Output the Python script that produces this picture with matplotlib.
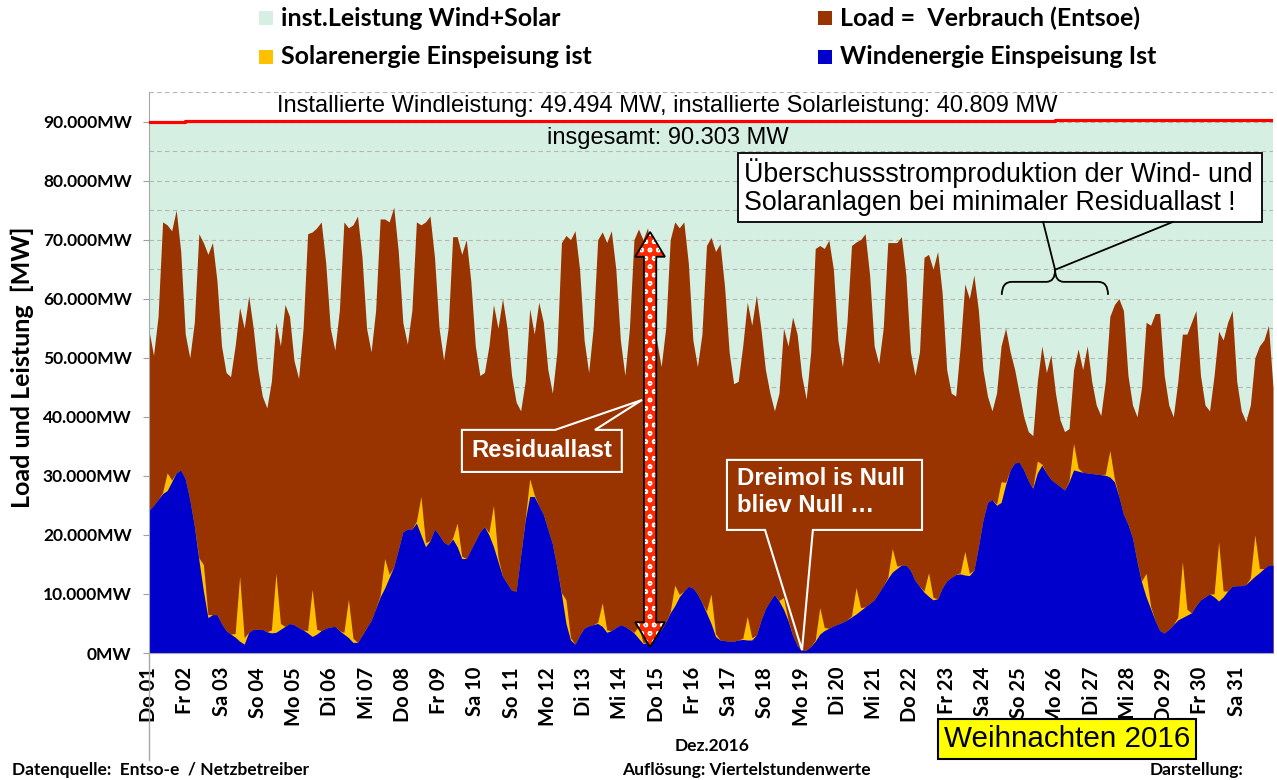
import numpy as np
import matplotlib.pyplot as plt
from matplotlib.patches import Polygon, Rectangle, PathPatch
from matplotlib.path import Path
from matplotlib.ticker import FuncFormatter, MultipleLocator

# Werte in Tsd. MW, je Tag 8 Werte (0, 3, 6, ... 21 Uhr), Dezember 2016
STEPS_PER_DAY = 8

day_labels = ["Do 01", "Fr 02", "Sa 03", "So 04", "Mo 05", "Di 06", "Mi 07",
              "Do 08", "Fr 09", "Sa 10", "So 11", "Mo 12", "Di 13", "Mi 14",
              "Do 15", "Fr 16", "Sa 17", "So 18", "Mo 19", "Di 20", "Mi 21",
              "Do 22", "Fr 23", "Sa 24", "So 25", "Mo 26", "Di 27", "Mi 28",
              "Do 29", "Fr 30", "Sa 31"]

load_k = [
    54.6, 50.4, 57.0, 73.0, 72.5, 71.5, 75.0, 68.0,
    54.0, 50.0, 56.0, 71.0, 69.5, 67.5, 69.5, 63.0,
    52.0, 47.5, 46.8, 52.0, 58.5, 55.0, 60.5, 55.0,
    48.0, 43.5, 41.5, 46.0, 56.0, 52.0, 59.0, 57.0,
    49.5, 46.5, 55.0, 71.0, 71.3, 72.0, 73.0, 66.0,
    55.0, 51.3, 58.0, 73.0, 72.0, 72.5, 74.0, 67.0,
    55.0, 51.0, 58.0, 73.5, 73.5, 73.0, 75.5, 68.0,
    56.0, 52.3, 58.0, 73.0, 72.5, 73.0, 74.0, 67.0,
    55.0, 49.6, 55.0, 70.5, 70.5, 67.5, 70.0, 63.0,
    52.0, 47.0, 47.5, 52.0, 59.0, 55.0, 60.0, 55.0,
    47.0, 42.5, 41.0, 46.0, 58.3, 54.0, 59.4, 56.0,
    48.0, 44.0, 51.0, 69.5, 70.7, 70.0, 71.5, 65.0,
    53.0, 47.5, 55.0, 70.0, 71.3, 69.5, 71.5, 65.0,
    53.0, 47.0, 55.0, 70.0, 71.8, 70.0, 72.0, 66.0,
    53.0, 48.5, 55.0, 70.0, 73.0, 72.0, 73.0, 66.0,
    53.0, 48.5, 54.0, 69.0, 70.4, 68.0, 69.3, 62.0,
    51.0, 45.6, 46.0, 52.0, 59.4, 55.5, 60.6, 55.0,
    48.0, 44.0, 41.0, 44.0, 55.0, 52.0, 56.9, 54.0,
    47.0, 43.0, 51.0, 68.5, 69.0, 68.5, 69.9, 65.0,
    53.0, 48.5, 56.0, 69.0, 69.6, 70.0, 71.0, 64.0,
    52.0, 49.0, 55.0, 69.5, 69.5, 69.5, 70.5, 64.0,
    51.0, 47.0, 51.0, 67.0, 67.5, 65.0, 68.0, 61.0,
    48.0, 44.0, 43.5, 52.0, 62.5, 60.0, 64.0, 58.0,
    48.0, 43.5, 41.0, 44.0, 52.0, 55.0, 51.0, 48.0,
    44.0, 40.0, 37.5, 36.8, 46.0, 52.0, 47.5, 50.5,
    44.0, 39.5, 37.5, 38.0, 48.0, 51.5, 48.0, 52.0,
    46.0, 42.0, 40.2, 46.0, 57.0, 59.0, 60.0, 58.0,
    47.0, 42.0, 40.0, 45.0, 56.0, 55.5, 57.5, 57.5,
    47.0, 42.0, 40.0, 46.0, 54.0, 54.0, 56.0, 58.0,
    47.0, 42.0, 41.0, 47.0, 54.5, 53.0, 56.0, 58.0,
    46.0, 41.0, 39.2, 42.0, 50.0, 52.0, 53.0, 55.5,
    45.0,
]

wind_k = [
    24.2, 25.0, 26.0, 27.0, 27.5, 29.0, 30.5, 31.0,
    29.5, 26.0, 21.5, 15.8, 10.5, 6.0, 6.5, 6.5,
    5.0, 3.8, 3.2, 2.7, 2.0, 1.5, 3.5, 4.0,
    4.0, 4.0, 3.6, 3.4, 3.5, 4.0, 4.5, 5.0,
    4.8, 4.3, 3.9, 3.4, 2.8, 3.2, 3.8, 4.2,
    4.4, 4.5, 3.8, 3.2, 2.6, 1.8, 1.8, 3.0,
    4.3, 5.5, 7.5, 9.5, 11.0, 12.8, 14.6, 17.5,
    20.5, 21.0, 21.0, 22.0, 20.0, 18.0, 19.0, 21.0,
    20.0, 18.8, 18.3, 19.3, 18.0, 16.0, 16.0, 17.5,
    19.0, 20.5, 21.4, 20.0, 18.0, 15.5, 13.0, 11.8,
    10.6, 10.5, 16.5, 22.5, 26.5, 26.5, 25.0, 23.5,
    21.0, 18.5, 14.5, 10.0, 5.0, 2.2, 1.5, 3.0,
    4.2, 4.6, 4.8, 5.0, 4.5, 3.5, 3.8, 4.3,
    4.8, 4.5, 4.0, 3.4, 2.5, 1.6, 1.8, 2.8,
    3.5, 3.9, 5.2, 6.8, 8.0, 9.5, 10.5, 11.3,
    11.0, 10.0, 8.5, 6.8, 5.0, 2.8, 2.2, 2.1,
    2.0, 2.0, 2.2, 2.3, 2.2, 2.2, 3.0, 5.5,
    7.5, 8.8, 9.9, 8.8, 7.4, 5.5, 3.0, 1.3,
    0.4, 0.5, 1.1, 2.0, 3.2, 3.8, 4.2, 4.6,
    4.9, 5.2, 5.6, 6.1, 6.6, 7.2, 7.8, 8.4,
    9.0, 10.2, 11.4, 12.6, 13.7, 14.3, 14.9, 14.9,
    14.0, 12.3, 11.3, 10.3, 9.6, 9.0, 9.2, 11.0,
    12.2, 12.8, 13.3, 13.4, 13.2, 13.1, 14.0, 18.0,
    22.5, 25.5, 26.0, 25.0, 25.5, 28.5, 31.0, 32.2,
    32.3, 31.0, 29.2, 27.9, 30.5, 31.8, 30.5, 29.4,
    28.8, 28.2, 27.6, 29.0, 31.0, 30.8, 30.6, 30.5,
    30.4, 30.3, 30.2, 30.1, 29.8, 29.0, 26.5, 23.5,
    21.8, 19.5, 15.5, 12.0, 9.5, 7.5, 5.5, 3.8,
    3.4, 4.0, 4.8, 5.6, 6.0, 6.4, 6.8, 8.0,
    9.0, 9.5, 10.0, 9.5, 8.8, 9.5, 10.5, 11.3,
    11.4, 11.4, 11.6, 12.3, 13.0, 13.6, 14.3, 14.9,
    14.9,
]

solar_k = [
    0, 0, 0, 0.2, 3.0, 0.3, 0, 0,
    0, 0, 0, 0.3, 4.5, 0.5, 0, 0,
    0, 0, 0, 0.6, 11.0, 1.1, 0, 0,
    0, 0, 0, 0.5, 10.0, 1.0, 0, 0,
    0, 0, 0, 0.4, 8.0, 0.8, 0, 0,
    0, 0, 0, 0.3, 6.5, 0.7, 0, 0,
    0, 0, 0, 0.3, 5.0, 0.5, 0, 0,
    0, 0, 0, 0.3, 6.5, 0.7, 0, 0,
    0, 0, 0, 0.2, 4.0, 0.4, 0, 0,
    0, 0, 0, 0.4, 7.0, 0.7, 0, 0,
    0, 0, 0, 0.2, 3.0, 0.3, 0, 0,
    0, 0, 0, 0.2, 4.0, 0.4, 0, 0,
    0, 0, 0, 0.2, 4.0, 0.4, 0, 0,
    0, 0, 0, 0.1, 2.0, 0.2, 0, 0,
    0, 0, 0, 0.2, 3.5, 0.4, 0, 0,
    0, 0, 0, 0.3, 5.0, 0.5, 0, 0,
    0, 0, 0, 0.2, 4.0, 0.4, 0, 0,
    0, 0, 0, 0.1, 2.0, 0.2, 0, 0,
    0, 0, 0, 0.2, 4.5, 0.5, 0, 0,
    0, 0, 0, 0.2, 4.5, 0.5, 0, 0,
    0, 0, 0, 0.2, 4.0, 0.4, 0, 0,
    0, 0, 0, 0.2, 4.0, 0.4, 0, 0,
    0, 0, 0, 0.2, 4.0, 0.4, 0, 0,
    0, 0, 0, 0.2, 3.5, 0.4, 0, 0,
    0, 0, 0, 0.1, 2.0, 0.2, 0, 0,
    0, 0, 0, 0.2, 4.5, 0.5, 0, 0,
    0, 0, 0, 0.2, 4.5, 0.5, 0, 0,
    0, 0, 0, 0.2, 4.0, 0.4, 0, 0,
    0, 0, 0, 0.5, 9.5, 1.0, 0, 0,
    0, 0, 0, 0.5, 10.0, 1.0, 0, 0,
    0, 0, 0, 0.4, 7.0, 0.7, 0, 0,
    0,
]

# installierte Leistung Wind+Solar je Tag
installed_k = [90.0] + [90.15] * 24 + [90.303] * 7

MINT = "#d5f0e2"
BROWN = "#993300"
YELLOW = "#ffc000"
BLUE = "#0000cc"
RED = "#ff0000"

CAL = ["Lato", "DejaVu Sans"]
ARIAL = ["Liberation Sans", "DejaVu Sans"]

load = np.array(load_k) * 1000
wind = np.array(wind_k) * 1000
solar = np.array(solar_k) * 1000
installed = np.array(installed_k) * 1000
t = np.arange(len(load)) / STEPS_PER_DAY
t_inst = np.arange(len(installed))

fig = plt.figure(figsize=(12.77, 7.8), dpi=100)
ax = fig.add_axes([149 / 1277, 127 / 780, 1124 / 1277, 561 / 780])

ax.fill_between(t_inst, 0, installed, step="post", color=MINT, lw=0, zorder=0.3)
ax.fill_between(t, 0, load, color=BROWN, lw=0, zorder=1)
ax.fill_between(t, 0, wind + solar, color=YELLOW, lw=0, zorder=1.1)
ax.fill_between(t, 0, wind, color=BLUE, lw=0, zorder=1.2)
ax.step(t_inst, installed, where="post", color=RED, lw=2.3, zorder=3)

ax.set_xlim(0, 31)
ax.set_ylim(0, 95000)
ax.yaxis.set_major_locator(MultipleLocator(10000))
ax.yaxis.set_minor_locator(MultipleLocator(5000))
ax.yaxis.set_major_formatter(
    FuncFormatter(lambda v, _: f"{v:,.0f}".replace(",", ".") + "MW"))
ax.set_axisbelow(True)
ax.grid(which="both", axis="y", ls=(0, (4, 3)), color="#b5b5b5", lw=0.8)
ax.set_xticks(range(31))
ax.set_xticklabels(day_labels, rotation=90, family=CAL, fontweight="bold",
                   fontsize=14.5)
ax.tick_params(axis="x", length=0, pad=10)
ax.tick_params(axis="y", which="major", length=4.5, color="#a0a0a0", pad=8)
ax.tick_params(axis="y", which="minor", length=0)
for lab in ax.get_yticklabels():
    lab.set_family(CAL)
    lab.set_fontweight("bold")
    lab.set_fontsize(12.5)
for side in ("top", "right"):
    ax.spines[side].set_visible(False)
for side in ("left", "bottom"):
    ax.spines[side].set_color("#a8a8a8")
ax.plot([0, 0], [0, -0.19], transform=ax.transAxes, color="#a8a8a8",
        lw=1, clip_on=False)

# Texte an der Linie der installierten Leistung
ax.text(14.3, 92600,
        "Installierte Windleistung: 49.494 MW, installierte Solarleistung: 40.809 MW",
        ha="center", va="center", family=ARIAL, fontsize=17, zorder=4)
ax.text(14.3, 87200, "insgesamt: 90.303 MW", ha="center", va="center",
        family=ARIAL, fontsize=17, zorder=4)

# Kasten Ueberschuss + Klammer
ax.add_patch(Rectangle((16.24, 73000), 14.45, 11700, facecolor="white",
                       edgecolor="black", lw=1.3, zorder=4))
ax.text(16.42, 78900,
        "Überschussstromproduktion der Wind- und\nSolaranlagen bei minimaler Residuallast !",
        ha="left", va="center", family=ARIAL, fontsize=19.3, linespacing=1.1,
        zorder=5)
ax.plot([24.66, 24.99, 28.24], [73000, 64900, 73000], color="black", lw=1.3,
        zorder=4)
brace = Path(
    [(23.52, 60650), (23.52, 62850), (23.8, 62850), (24.75, 62850),
     (24.99, 62850), (24.99, 64900),
     (24.99, 64900), (24.99, 62850), (25.23, 62850), (26.18, 62850),
     (26.45, 62850), (26.45, 60650)],
    [Path.MOVETO, Path.CURVE3, Path.CURVE3, Path.LINETO, Path.CURVE3,
     Path.CURVE3,
     Path.MOVETO, Path.CURVE3, Path.CURVE3, Path.LINETO, Path.CURVE3,
     Path.CURVE3])
ax.add_patch(PathPatch(brace, facecolor="none", edgecolor="black", lw=1.3,
                       zorder=4))

# Doppelpfeil Residuallast
arrow = [(13.82, 71300), (14.23, 67100), (13.99, 67100), (13.99, 5200),
         (14.23, 5200), (13.82, 1000), (13.41, 5200), (13.65, 5200),
         (13.65, 67100), (13.41, 67100)]
ax.add_patch(Polygon(arrow, facecolor="#ff2a00", edgecolor="white",
                     hatch="oo", lw=0, zorder=4))
ax.add_patch(Polygon(arrow, facecolor="none", edgecolor="black", lw=1.3,
                     zorder=4.1))

# Legende Residuallast
resid = [(8.63, 37780), (11.2, 37780), (13.6, 42860), (12.3, 37780),
         (13.04, 37780), (13.04, 30660), (8.63, 30660)]
ax.add_patch(Polygon(resid, facecolor=BROWN, edgecolor="white", lw=1.5,
                     zorder=4))
ax.text(10.83, 34220, "Residuallast", ha="center", va="center", color="white",
        family=ARIAL, fontweight="bold", fontsize=17.2, zorder=5)

dreimol = [(15.94, 32700), (21.32, 32700), (21.32, 20840), (18.31, 20840),
           (18.01, 500), (16.99, 20840), (15.94, 20840)]
ax.add_patch(Polygon(dreimol, facecolor=BROWN, edgecolor="white", lw=1.5,
                     zorder=4))
ax.text(16.22, 27300, "Dreimol is Null\nbliev Null …", ha="left", va="center",
        color="white", family=ARIAL, fontweight="bold", fontsize=17.3,
        linespacing=1.25, zorder=5)

# Legende oben
legend_items = [(MINT, "inst.Leistung Wind+Solar", 259, 18),
                (BROWN, "Load =  Verbrauch (Entsoe)", 818, 18),
                (YELLOW, "Solarenergie Einspeisung ist", 259, 57),
                (BLUE, "Windenergie Einspeisung Ist", 818, 57)]
for color, label, px, py in legend_items:
    fig.patches.append(Rectangle((px / 1277, 1 - (py + 7) / 780), 14 / 1277,
                                 14 / 780, transform=fig.transFigure,
                                 facecolor=color, edgecolor="none"))
    fig.text((px + 22) / 1277, 1 - py / 780, label, ha="left", va="center",
             family=CAL, fontweight="bold", fontsize=18)

fig.text(22 / 1277, 1 - 367 / 780, "Load und Leistung  [MW]", rotation=90,
         ha="center", va="center", family=CAL, fontweight="bold", fontsize=18)
fig.text(712 / 1277, 1 - 746 / 780, "Dez.2016", ha="center", va="center",
         family=CAL, fontweight="bold", fontsize=12.5)
fig.text(12 / 1277, 1 - 770 / 780, "Datenquelle:  Entso-e  / Netzbetreiber",
         ha="left", va="center", family=CAL, fontweight="bold", fontsize=12.5)
fig.text(622 / 1277, 1 - 770 / 780, "Auflösung: Viertelstundenwerte",
         ha="left", va="center", family=CAL, fontweight="bold", fontsize=12.5)
fig.text(1150 / 1277, 1 - 770 / 780, "Darstellung:", ha="left", va="center",
         family=CAL, fontweight="bold", fontsize=12.5)
fig.text(1067 / 1277, 1 - 739 / 780, "Weihnachten 2016", ha="center",
         va="center", family=ARIAL, fontsize=21.3,
         bbox=dict(boxstyle="square,pad=0.2", facecolor="#ffff00",
                   edgecolor="black", lw=1.5))

fig.savefig("out.png", dpi=100)
